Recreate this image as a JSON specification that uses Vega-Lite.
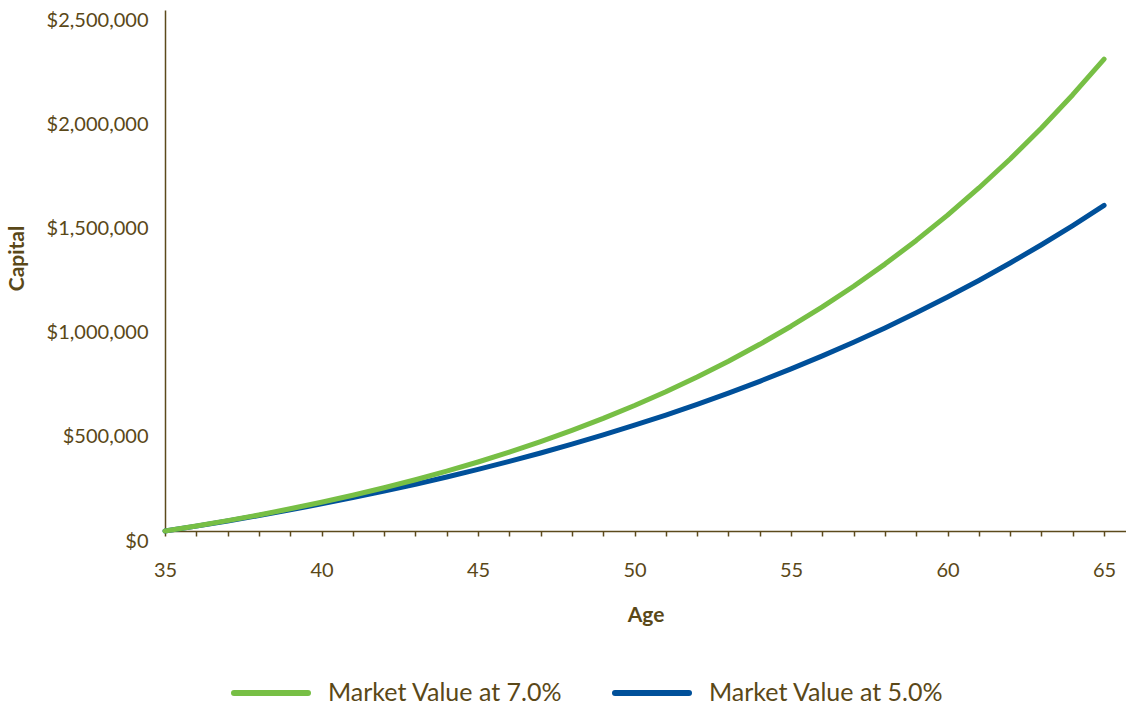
{
  "$schema": "https://vega.github.io/schema/vega-lite/v6.json",
  "width": 961,
  "height": 521,
  "autosize": {"type": "none"},
  "padding": {"left": 165, "top": 10, "right": 0, "bottom": 172},
  "background": "white",
  "config": {"view": {"stroke": null}, "font": "Lato"},
  "datasets": {
    "five": [
      {"age": 35, "capital": 0}, {"age": 36, "capital": 23520}, {"age": 37, "capital": 48216}, {"age": 38, "capital": 74147},
      {"age": 39, "capital": 101374}, {"age": 40, "capital": 129963}, {"age": 41, "capital": 159981}, {"age": 42, "capital": 191500},
      {"age": 43, "capital": 224595}, {"age": 44, "capital": 259322}, {"age": 45, "capital": 295810}, {"age": 46, "capital": 334143},
      {"age": 47, "capital": 374371}, {"age": 48, "capital": 416609}, {"age": 49, "capital": 460960}, {"age": 50, "capital": 507528},
      {"age": 51, "capital": 556424}, {"age": 52, "capital": 607765}, {"age": 53, "capital": 661674}, {"age": 54, "capital": 718277},
      {"age": 55, "capital": 777711}, {"age": 56, "capital": 840117}, {"age": 57, "capital": 905643}, {"age": 58, "capital": 974445},
      {"age": 59, "capital": 1046687}, {"age": 60, "capital": 1122541}, {"age": 61, "capital": 1202189}, {"age": 62, "capital": 1285818},
      {"age": 63, "capital": 1373629}, {"age": 64, "capital": 1465830}, {"age": 65, "capital": 1562642}
    ],
    "seven": [
      {"age": 35, "capital": 0}, {"age": 36, "capital": 23968}, {"age": 37, "capital": 49614}, {"age": 38, "capital": 77054},
      {"age": 39, "capital": 106416}, {"age": 40, "capital": 137834}, {"age": 41, "capital": 171450}, {"age": 42, "capital": 207420},
      {"age": 43, "capital": 245907}, {"age": 44, "capital": 287087}, {"age": 45, "capital": 331153}, {"age": 46, "capital": 378300},
      {"age": 47, "capital": 428749}, {"age": 48, "capital": 482731}, {"age": 49, "capital": 540490}, {"age": 50, "capital": 602293},
      {"age": 51, "capital": 668420}, {"age": 52, "capital": 739178}, {"age": 53, "capital": 814890}, {"age": 54, "capital": 895899},
      {"age": 55, "capital": 982578}, {"age": 56, "capital": 1075328}, {"age": 57, "capital": 1174564}, {"age": 58, "capital": 1280758},
      {"age": 59, "capital": 1394378}, {"age": 60, "capital": 1515951}, {"age": 61, "capital": 1646037}, {"age": 62, "capital": 1785226},
      {"age": 63, "capital": 1934162}, {"age": 64, "capital": 2093522}, {"age": 65, "capital": 2264035}
    ]
  },
  "layer": [
    {
      "data": {"name": "five"},
      "transform": [{"calculate": "'Market Value at 5.0%'", "as": "series"}],
      "mark": {"type": "line", "strokeWidth": 5, "strokeCap": "round", "strokeJoin": "round"},
      "encoding": {
        "x": {"field": "age", "type": "quantitative"},
        "y": {"field": "capital", "type": "quantitative"},
        "color": {"field": "series", "type": "nominal"}
      }
    },
    {
      "data": {"name": "seven"},
      "transform": [{"calculate": "'Market Value at 7.0%'", "as": "series"}],
      "mark": {"type": "line", "strokeWidth": 5, "strokeCap": "round", "strokeJoin": "round"},
      "encoding": {
        "x": {"field": "age", "type": "quantitative"},
        "y": {"field": "capital", "type": "quantitative"},
        "color": {"field": "series", "type": "nominal"}
      }
    }
  ],
  "encoding": {
    "x": {
      "field": "age", "type": "quantitative",
      "scale": {"domain": [35, 65.7], "nice": false, "zero": false},
      "axis": {
        "values": [35,36,37,38,39,40,41,42,43,44,45,46,47,48,49,50,51,52,53,54,55,56,57,58,59,60,61,62,63,64,65],
        "labelExpr": "datum.value % 5 === 0 ? datum.label : ''",
        "grid": false, "labelFlush": false, "labelOverlap": false,
        "domainColor": "#5c4a1c", "domainWidth": 1.5,
        "tickColor": "#5c4a1c", "tickWidth": 1.5, "tickSize": 5,
        "labelColor": "#5a4818", "labelFontSize": 20, "labelPadding": 24,
        "title": "Age", "titleColor": "#5a4818", "titleFontSize": 21, "titleFontWeight": "bold",
        "titleBaseline": "alphabetic", "titleY": 90
      }
    },
    "y": {
      "field": "capital", "type": "quantitative",
      "scale": {"domain": [0, 2500000], "nice": false},
      "axis": {
        "values": [0, 500000, 1000000, 1500000, 2000000, 2500000],
        "format": "$,.0f",
        "grid": false, "ticks": false,
        "domainColor": "#5c4a1c", "domainWidth": 1.5,
        "labelColor": "#5a4818", "labelFontSize": 20, "labelPadding": 17, "labelOffset": 10,
        "title": "Capital", "titleColor": "#5a4818", "titleFontSize": 21, "titleFontWeight": "bold",
        "titleAngle": -90, "titleAlign": "center", "titleBaseline": "alphabetic", "titleX": -142, "titleY": 248
      }
    },
    "color": {
      "field": "series", "type": "nominal",
      "scale": {"domain": ["Market Value at 7.0%", "Market Value at 5.0%"], "range": ["#77bf45", "#00509a"]},
      "legend": {
        "orient": "none", "legendX": 66, "legendY": 643, "direction": "horizontal", "title": null,
        "symbolType": "stroke", "symbolSize": 5476, "symbolStrokeWidth": 6,
        "labelFontSize": 25, "labelColor": "#5a4818", "labelOffset": 17, "labelLimit": 400,
        "columnPadding": 40,
        "encode": {"symbols": {"update": {"strokeCap": {"value": "round"}}}}
      }
    }
  }
}
